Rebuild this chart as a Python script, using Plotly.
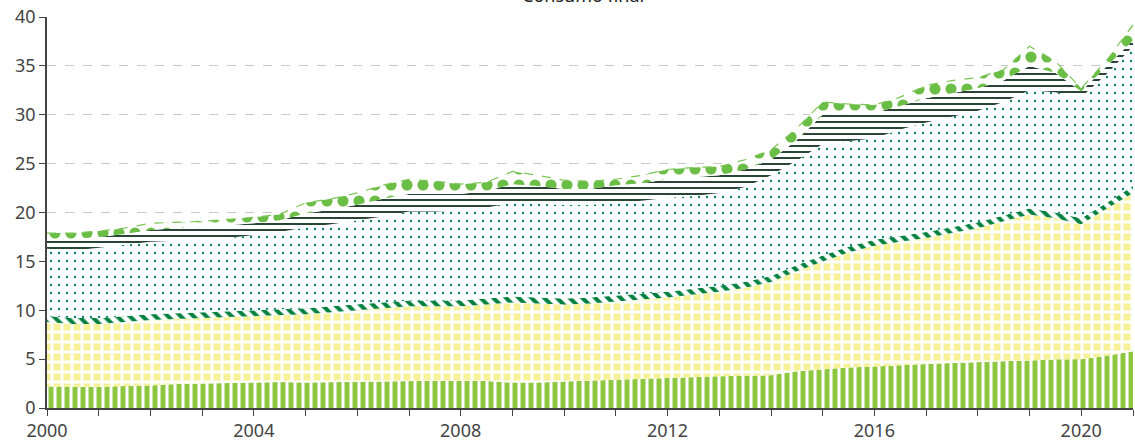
import plotly.graph_objects as go

# Semi-annual observation dates (2000 .. 2021)
dates = [f"{y}-{m}-01" for y in range(2000, 2021) for m in ("01", "07")] + ["2021-01-01"]

# Layer values (stacked, bottom to top)
serie_1 = [2.2, 2.2, 2.15, 2.25, 2.3, 2.45, 2.5, 2.6, 2.65, 2.65, 2.6, 2.65, 2.7, 2.75, 2.75,
           2.8, 2.8, 2.75, 2.6, 2.6, 2.7, 2.8, 2.9, 3.0, 3.1, 3.15, 3.25, 3.3, 3.35, 3.75,
           3.95, 4.15, 4.25, 4.4, 4.5, 4.6, 4.7, 4.8, 4.9, 4.95, 5.0, 5.35, 5.8]
serie_2 = [6.6, 6.4, 6.45, 6.55, 6.7, 6.65, 6.7, 6.7, 6.75, 6.85, 7.0, 7.15, 7.3, 7.45, 7.65,
           7.6, 7.6, 7.85, 8.2, 8.1, 7.9, 7.9, 8.0, 8.1, 8.2, 8.45, 8.65, 9.0, 9.55, 10.25,
           11.05, 11.75, 12.35, 12.6, 12.9, 13.3, 13.7, 14.3, 14.9, 14.45, 13.8, 15.05, 16.2]
serie_3 = [0.6] * 42 + [0.7]
serie_4 = [6.9, 6.9, 7.2, 7.3, 7.4, 7.4, 7.4, 7.5, 7.7, 7.9, 8.3, 8.4, 8.6, 8.8, 9.1,
           9.1, 9.2, 9.3, 9.6, 9.6, 9.6, 9.5, 9.5, 9.5, 9.6, 9.5, 9.5, 9.7, 10.3, 10.7,
           11.4, 10.8, 10.4, 10.9, 11.2, 11.3, 11.4, 11.6, 12.1, 12.3, 12.4, 13.2, 14.3]
serie_5 = [1.0, 1.2, 1.1, 1.1, 1.2, 1.3, 1.3, 1.3, 1.2, 1.2, 1.4, 1.5, 1.6, 1.8, 1.8,
           1.8, 1.7, 1.7, 1.9, 1.8, 1.6, 1.6, 1.8, 1.8, 1.9, 1.9, 1.8, 1.8, 1.6, 2.1,
           3.0, 2.7, 2.6, 2.4, 2.5, 2.4, 2.3, 2.2, 2.5, 2.0, 0.6, 0.8, 0.6]
serie_6 = [0.6, 0.6, 0.6, 0.6, 0.7, 0.6, 0.6, 0.6, 0.6, 0.6, 1.1, 1.1, 1.2, 1.4, 1.5,
           1.3, 1.0, 0.9, 1.3, 1.1, 0.9, 0.8, 0.6, 0.8, 1.0, 1.0, 0.9, 1.0, 1.0, 1.2,
           1.3, 1.1, 0.8, 0.9, 1.3, 1.3, 1.1, 1.1, 2.0, 1.2, 0.3, 0.6, 1.6]

x_tick_labels = ["2000", "2004", "2008", "2012", "2016", "2020"]
x_tick_vals = [f"{y}-01-01" for y in (2000, 2004, 2008, 2012, 2016, 2020)]

layers = [
    dict(name="s1", y=serie_1, shape="|", fg="#8DC63F", bg="white", size=8, sol=0.62),
    dict(name="s2", y=serie_2, shape="+", fg="white", bg="#F7F29A", size=10, sol=0.5),
    dict(name="s3", y=serie_3, shape="\\", fg="#00803F", bg="white", size=9, sol=0.45),
    dict(name="s4", y=serie_4, shape=".", fg="#0B7F78", bg="white", size=8, sol=0.07),
    dict(name="s5", y=serie_5, shape="-", fg="#142E20", bg="white", size=6, sol=0.3),
    dict(name="s6", y=serie_6, shape=".", fg="#6ABD45", bg="white", size=16, sol=0.38),
]

fig = go.Figure()
for i, L in enumerate(layers):
    top = i == len(layers) - 1
    fig.add_trace(go.Scatter(
        x=dates, y=L["y"], name=L["name"], mode="lines", stackgroup="one",
        line=dict(width=1.2 if top else 0, color="#7CC555", dash="dash"),
        fillpattern=dict(shape=L["shape"], fgcolor=L["fg"], bgcolor=L["bg"],
                         size=L["size"], solidity=L["sol"], fillmode="replace"),
        hoverinfo="skip", showlegend=False,
    ))

fig.update_layout(
    width=1135, height=447,
    margin=dict(l=47, r=2, t=17, b=39),
    paper_bgcolor="white", plot_bgcolor="white",
    font=dict(family="Noto Sans", size=18, color="#444444"),
    xaxis=dict(
        type="date", range=["2000-01-01", "2021-01-01"],
        tickvals=x_tick_vals, ticktext=x_tick_labels,
        ticks="outside", ticklen=6, tickcolor="#444444",
        showline=True, linecolor="#444444", linewidth=1.5,
        showgrid=False, zeroline=False,
        minor=dict(dtick="M12", tick0="2000-01-01", ticks="outside", ticklen=6,
                   tickcolor="#444444", showgrid=False),
    ),
    yaxis=dict(
        range=[0, 40], dtick=5, tick0=0,
        ticks="outside", ticklen=6, tickcolor="#444444",
        showline=True, linecolor="#444444", linewidth=1.5,
        showgrid=True, gridcolor="#C8C8C8", griddash="dash", gridwidth=1,
        zeroline=False,
    ),
    annotations=[dict(
        text="Consumo final", xref="paper", yref="paper",
        x=(583 - 47) / 1086, y=1.0195, xanchor="center", yanchor="bottom",
        showarrow=False, font=dict(size=18, color="#222222"),
    )],
)

fig.write_html("out.html", config={"displayModeBar": False},
               post_script="document.body.style.margin='0';")
